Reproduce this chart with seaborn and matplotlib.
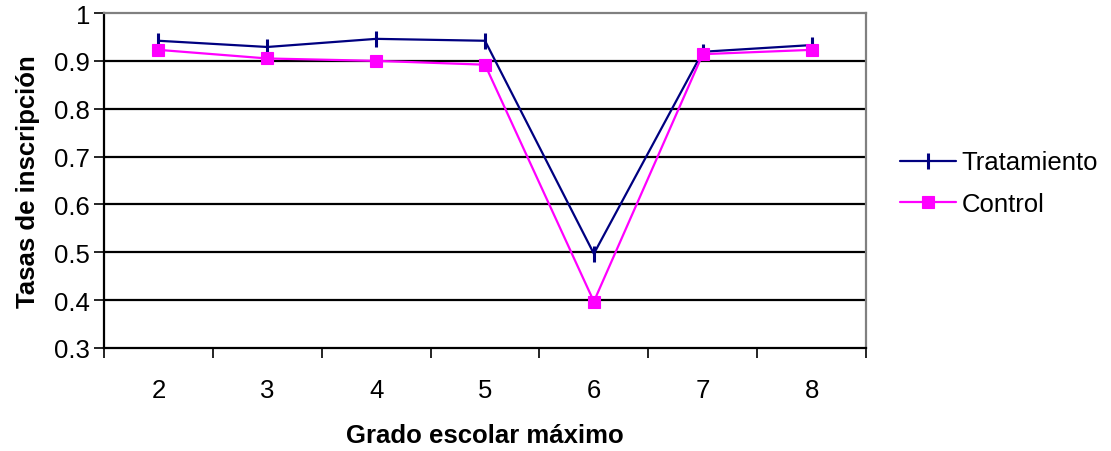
import matplotlib
matplotlib.use("Agg")
import matplotlib.pyplot as plt
import seaborn as sns
import pandas as pd

grados = ["2", "3", "4", "5", "6", "7", "8"]
tratamiento = [0.942, 0.929, 0.946, 0.942, 0.497, 0.919, 0.933]
control = [0.923, 0.905, 0.900, 0.892, 0.397, 0.914, 0.923]
y_ticks = [0.3, 0.4, 0.5, 0.6, 0.7, 0.8, 0.9, 1.0]
y_tick_labels = ["0.3", "0.4", "0.5", "0.6", "0.7", "0.8", "0.9", "1"]

sns.set_theme(style="white")
plt.rcParams["font.family"] = ["Liberation Sans", "DejaVu Sans"]
plt.rcParams["text.color"] = "black"
plt.rcParams["axes.labelcolor"] = "black"
plt.rcParams["xtick.color"] = "black"
plt.rcParams["ytick.color"] = "black"

FS = 18.5
pos = list(range(len(grados)))
df_t = pd.DataFrame({"pos": pos, "valor": tratamiento})
df_c = pd.DataFrame({"pos": pos, "valor": control})

fig = plt.figure(figsize=(11.11, 4.52), dpi=100)
ax = fig.add_axes([0.0936, 0.228, 0.6859, 0.741])

sns.lineplot(data=df_t, x="pos", y="valor", color="#000080", marker="|",
             markersize=11, markeredgewidth=2.2, markeredgecolor="#000080",
             linewidth=1.6, label="Tratamiento", ax=ax, zorder=3)
sns.lineplot(data=df_c, x="pos", y="valor", color="#FF00FF", marker="s",
             markersize=8.5, markeredgewidth=0.8, markeredgecolor="#FF00FF",
             linewidth=1.6, label="Control", ax=ax, zorder=3)

ax.set_xlim(-0.5, len(grados) - 0.5)
ax.set_ylim(0.3, 1.0)
ax.set_yticks(y_ticks)
ax.set_yticklabels(y_tick_labels, fontsize=FS)
# category labels centred, ticks at the boundaries
ax.set_xticks(pos)
ax.set_xticklabels(grados, fontsize=FS)
ax.set_xticks([i - 0.5 for i in range(len(grados) + 1)], minor=True)
ax.tick_params(axis="x", which="major", length=0, pad=22)
ax.tick_params(axis="x", which="minor", length=7, width=1.2, color="black",
               direction="out", bottom=True)
ax.tick_params(axis="y", length=7, width=1.2, color="black", direction="out",
               left=True, pad=3)

for v in y_ticks[1:-1]:
    ax.axhline(v, color="black", linewidth=1.6, zorder=1)

ax.spines["left"].set_color("black")
ax.spines["left"].set_linewidth(1.6)
ax.spines["bottom"].set_color("black")
ax.spines["bottom"].set_linewidth(1.6)
ax.spines["top"].set_color("#808080")
ax.spines["top"].set_linewidth(1.6)
ax.spines["right"].set_color("#808080")
ax.spines["right"].set_linewidth(1.6)

ax.set_xlabel("Grado escolar máximo", fontsize=FS, fontweight="bold", labelpad=15)
ax.set_ylabel("Tasas de inscripción", fontsize=FS, fontweight="bold", labelpad=10)

handles, labels = ax.get_legend_handles_labels()
ax.legend(handles, labels, loc="center left", bbox_to_anchor=(1.014, 0.491),
          frameon=False, fontsize=FS, handlelength=2.2, handletextpad=0.2,
          labelspacing=0.7)

fig.savefig("out.png", dpi=100)
